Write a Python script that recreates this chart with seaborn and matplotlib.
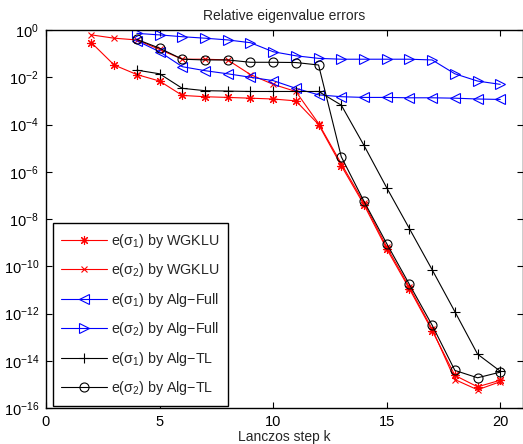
import matplotlib
matplotlib.use("Agg")
import matplotlib.pyplot as plt
import pandas as pd
import seaborn as sns

steps_wgklu = list(range(2, 21))
steps_alg = list(range(4, 21))

wgklu_s1 = [2.9e-1, 3.3e-2, 1.3e-2, 6.9e-3, 1.7e-3, 1.5e-3, 1.4e-3, 1.3e-3, 1.2e-3, 1.0e-3,
            1.0e-4, 1.8e-6, 4.0e-8, 5.4e-10, 1.1e-11, 1.9e-13, 2.4e-15, 7.9e-16, 1.5e-15]
wgklu_s2 = [6.2e-1, 4.5e-1, 3.8e-1, 1.5e-1, 5.8e-2, 5.8e-2, 5.4e-2, 1.3e-2, 5.0e-3, 2.5e-3,
            1.1e-4, 2.2e-6, 4.8e-8, 6.6e-10, 1.3e-11, 2.2e-13, 1.6e-15, 5.9e-16, 1.3e-15]
full_s1 = [3.5e-1, 1.2e-1, 2.8e-2, 1.9e-2, 1.4e-2, 1.0e-2, 7.2e-3, 3.4e-3, 1.8e-3, 1.5e-3,
           1.4e-3, 1.4e-3, 1.35e-3, 1.35e-3, 1.3e-3, 1.2e-3, 1.15e-3]
full_s2 = [7.2e-1, 6.2e-1, 5.2e-1, 4.5e-1, 3.8e-1, 2.9e-1, 1.2e-1, 8.1e-2, 6.3e-2, 5.8e-2,
           5.8e-2, 5.8e-2, 5.8e-2, 5.4e-2, 1.4e-2, 6.9e-3, 5.0e-3]
tl_s1 = [2.0e-2, 1.4e-2, 3.4e-3, 2.7e-3, 2.6e-3, 2.5e-3, 2.5e-3, 2.5e-3, 2.5e-3, 6.6e-4,
         1.3e-5, 2.1e-7, 3.9e-9, 7.1e-11, 1.2e-12, 1.9e-14, 3.6e-15]
tl_s2 = [4.0e-1, 1.7e-1, 5.8e-2, 5.4e-2, 5.4e-2, 4.3e-2, 4.3e-2, 4.2e-2, 3.3e-2, 4.3e-6,
         5.6e-8, 9.1e-10, 1.7e-11, 3.2e-13, 3.9e-15, 1.9e-15, 3.3e-15]

labels = [r"e(σ$_1$) by WGKLU", r"e(σ$_2$) by WGKLU",
          r"e(σ$_1$) by Alg$-$Full", r"e(σ$_2$) by Alg$-$Full",
          r"e(σ$_1$) by Alg$-$TL", r"e(σ$_2$) by Alg$-$TL"]

ytick_exps = [0, -2, -4, -6, -8, -10, -12, -14, -16]
xticks = [0, 5, 10, 15, 20]

sns.set_style("ticks")
plt.rcParams["font.family"] = ["Liberation Sans", "DejaVu Sans"]
plt.rcParams["mathtext.fontset"] = "custom"
plt.rcParams["mathtext.rm"] = "Liberation Sans"
plt.rcParams["mathtext.it"] = "Liberation Sans:italic"
plt.rcParams["mathtext.default"] = "regular"

fig = plt.figure(figsize=(5.23, 4.44), dpi=100)
ax = fig.add_axes([46 / 523, 1 - 408 / 444, 477 / 523, 378 / 444])

series = [
    (steps_wgklu, wgklu_s1, "red", (8, 2, 0), 6.5, "red"),
    (steps_wgklu, wgklu_s2, "red", "x", 4.5, "red"),
    (steps_alg, full_s1, "blue", "<", 7, "none"),
    (steps_alg, full_s2, "blue", ">", 7, "none"),
    (steps_alg, tl_s1, "black", "+", 7, "black"),
    (steps_alg, tl_s2, "black", "o", 6.5, "none"),
]

for (xs, ys, color, marker, ms, mfc), label in zip(series, labels):
    df = pd.DataFrame({"k": xs, "err": ys})
    sns.lineplot(data=df, x="k", y="err", ax=ax, color=color, marker=marker,
                 markersize=ms, markerfacecolor=mfc, markeredgecolor=color,
                 markeredgewidth=0.8, linewidth=0.8, label=label)

ax.set_yscale("log")
ax.set_xlim(0, 21)
ax.set_ylim(1e-16, 1)
ax.set_yticks([10.0 ** e for e in ytick_exps])
ax.set_yticklabels([r"10$^{%d}$" % e for e in ytick_exps])
ax.yaxis.set_minor_locator(matplotlib.ticker.NullLocator())
ax.set_xticks(xticks)
ax.tick_params(direction="in", top=True, right=True, length=4, width=0.8,
               labelsize=10.5, colors="black", pad=5)
for s in ax.spines.values():
    s.set_linewidth(1.0)
    s.set_color("black")

ax.set_title("Relative eigenvalue errors", fontsize=10, pad=7)
ax.set_xlabel("Lanczos step k", fontsize=10, labelpad=1)
ax.set_ylabel("")

leg = ax.legend(loc="lower left", bbox_to_anchor=(0.014, 0.006), fontsize=10.3,
                frameon=True, fancybox=False, framealpha=1, edgecolor="black",
                handlelength=3.2, labelspacing=0.8, borderpad=0.6, handletextpad=0.3,
                borderaxespad=0)
leg.get_frame().set_linewidth(1.0)

fig.savefig("out.png", dpi=100)
